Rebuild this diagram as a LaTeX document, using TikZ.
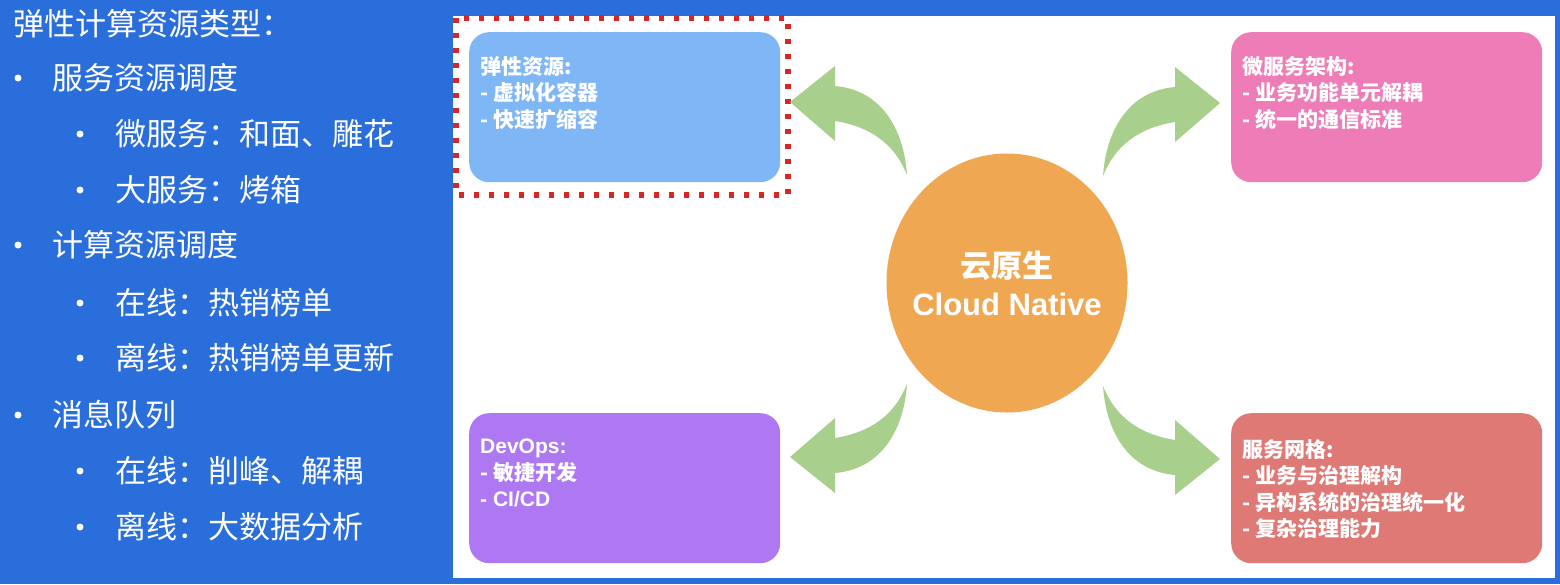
\documentclass[tikz,border=0pt]{standalone}
\usepackage{fontspec}
\setmainfont{Noto Sans CJK SC}
\newfontfamily\latinfont{Liberation Sans}
\usepackage{xcolor}
\usetikzlibrary{positioning}
\usetikzlibrary{shapes.geometric}
\definecolor{bgblue}{RGB}{42,110,220}
\definecolor{elasticblue}{RGB}{126,182,246}
\definecolor{micropink}{RGB}{238,124,183}
\definecolor{devpurple}{RGB}{174,120,243}
\definecolor{meshred}{RGB}{222,121,117}
\definecolor{coreorange}{RGB}{240,167,82}
\definecolor{arrowgreen}{RGB}{168,208,140}
\definecolor{markred}{RGB}{214,38,38}
\tikzset{
	card/.style={rectangle, rounded corners=20pt, minimum width=311pt, minimum height=150pt, inner sep=0pt, anchor=north west},
	cardtext/.style={inner sep=0pt, align=left, text=white, font=\fontsize{21}{26.5}\selectfont\bfseries},
	listitem/.style={anchor=west, inner sep=0pt, text=white, font=\fontsize{31}{37}\selectfont},
	bulletdot/.style={circle, fill=white, inner sep=0pt, minimum size=7pt},
	swoosh/.pic={
		\fill[arrowgreen] (0,0) .. controls (3,-45) and (25,-85) .. (72,-89)
			-- (72,-109) -- (117,-73) -- (72,-34) -- (72,-54)
			.. controls (35,-48) and (12,-30) .. (0,0) -- cycle;
	}
}

\begin{document}
\begin{tikzpicture}[x=1pt,y=-1pt]
		\useasboundingbox (0,0) rectangle (1560,584);
		\fill[bgblue] (0,0) rectangle (1560,584);
		\fill[white] (453,16) rectangle (1555,578);
		% left list
		\node[listitem] (title) at (13,24) {弹性计算资源类型：};
		\node[bulletdot] (d1) at (18,78) {};
		\node[listitem] (l1) at (52,78) {服务资源调度};
		\node[bulletdot] (d2) at (80,134) {};
		\node[listitem] (l2) at (115,134) {微服务：和面、雕花};
		\node[bulletdot] (d3) at (80,190) {};
		\node[listitem] (l3) at (115,190) {大服务：烤箱};
		\node[bulletdot] (d4) at (18,245) {};
		\node[listitem] (l4) at (52,245) {计算资源调度};
		\node[bulletdot] (d5) at (80,303) {};
		\node[listitem] (l5) at (115,303) {在线：热销榜单};
		\node[bulletdot] (d6) at (80,358) {};
		\node[listitem] (l6) at (115,358) {离线：热销榜单更新};
		\node[bulletdot] (d7) at (18,415) {};
		\node[listitem] (l7) at (52,415) {消息队列};
		\node[bulletdot] (d8) at (80,471) {};
		\node[listitem] (l8) at (115,471) {在线：削峰、解耦};
		\node[bulletdot] (d9) at (80,527) {};
		\node[listitem] (l9) at (115,527) {离线：大数据分析};
		% cards
		\node[card, fill=elasticblue] (elastic) at (469,32) {};
		\node[card, fill=micropink] (micro) at (1231,32) {};
		\node[card, fill=devpurple] (devops) at (469,413) {};
		\node[card, fill=meshred] (mesh) at (1231,413) {};
		\node[cardtext, below right=24pt and 11pt of elastic.north west] (elastictext) {弹性资源:\\- 虚拟化容器\\- 快速扩缩容};
		\node[cardtext, below right=24pt and 11pt of micro.north west] (microtext) {微服务架构:\\- 业务功能单元解耦\\- 统一的通信标准};
		\node[cardtext, below right=26pt and 11pt of devops.north west] (devopstext) {{\latinfont DevOps:}\\- 敏捷开发\\{\latinfont - CI/CD}};
		\node[cardtext, below right=26pt and 11pt of mesh.north west] (meshtext) {服务网格:\\- 业务与治理解构\\- 异构系统的治理统一化\\- 复杂治理能力};
		\draw[markred, line width=5.5pt, dash pattern=on 5pt off 10pt] (456,18) rectangle (788,195);
		% center
		\node[ellipse, fill=coreorange, minimum width=241pt, minimum height=259pt, inner sep=0pt] (core) at (1007,283) {};
		\node[align=center, inner sep=0pt, text=white, font=\fontsize{31}{38}\selectfont\bfseries] (coretext) at (core.center) {云原生\\{\latinfont Cloud Native}};
		\pic at (1103,176) {swoosh};
		\pic[xscale=-1] at (907,175) {swoosh};
		\pic[xscale=-1,yscale=-1] at (907,384) {swoosh};
		\pic[yscale=-1] at (1103,386) {swoosh};
	\end{tikzpicture}
\end{document}
